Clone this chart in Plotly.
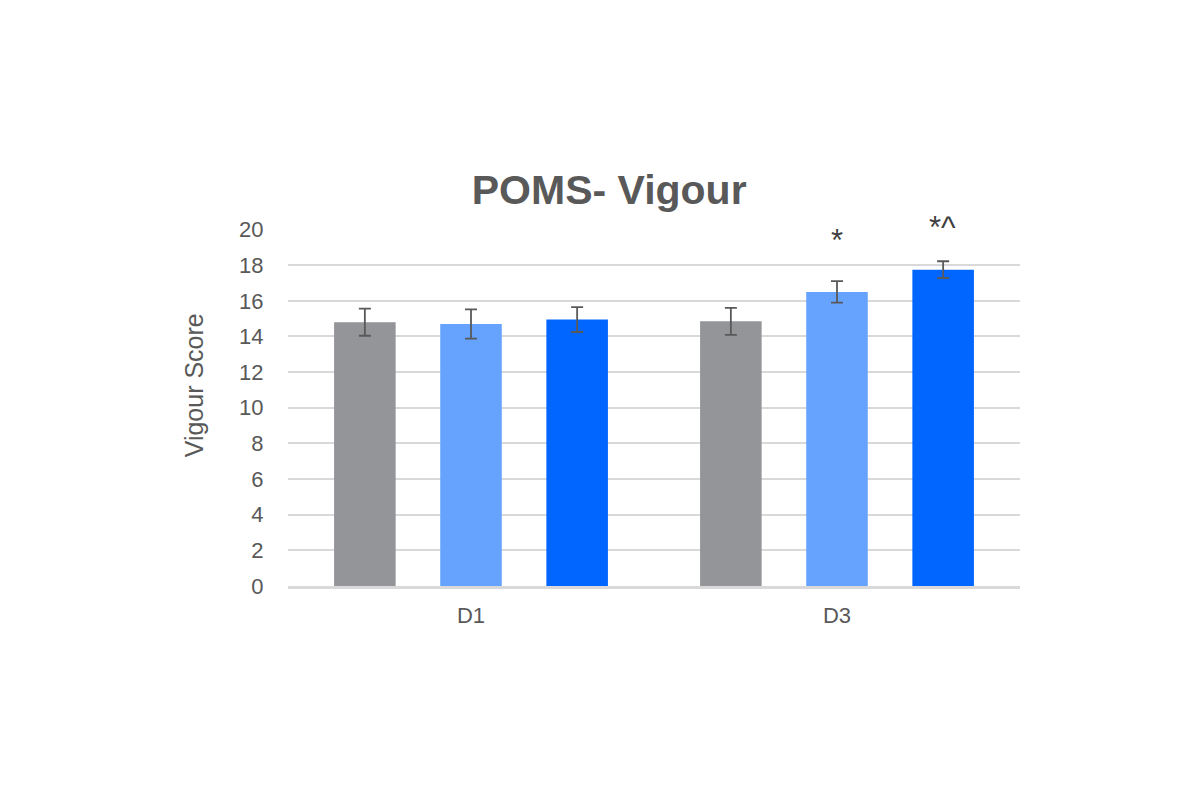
import plotly.graph_objects as go

# POMS vigour scores, three groups per day
days = ["D1", "D3"]
group_a = [14.8, 14.85]
group_b = [14.7, 16.5]
group_c = [14.95, 17.75]
err_a = [0.76, 0.76]
err_b = [0.82, 0.6]
err_c = [0.7, 0.47]
colors = ["#939598", "#66a3ff", "#0066ff"]

fig = go.Figure()
for vals, errs, col in zip([group_a, group_b, group_c], [err_a, err_b, err_c], colors):
    fig.add_trace(go.Bar(
        x=days, y=vals, marker_color=col, marker_line_width=0,
        error_y=dict(type="data", array=errs, color="#595959", thickness=1.8, width=6),
        showlegend=False,
    ))

# significance marks above D3 bars
fig.add_annotation(x="D3", y=19.4, text="*", showarrow=False, xshift=0,
                   font=dict(size=31, color="#404040", family="Liberation Sans"))
fig.add_annotation(x="D3", y=20, text="*^", showarrow=False, xshift=105, yshift=2,
                   font=dict(size=31, color="#404040", family="Liberation Sans"))

# y-axis title placed as annotation
fig.add_annotation(xref="paper", yref="paper", x=-0.128, y=0.563, text="Vigour Score",
                   xanchor="center", yanchor="middle",
                   textangle=-90, showarrow=False,
                   font=dict(size=25, color="#595959", family="Liberation Sans"))

fig.update_layout(
    width=1200, height=799,
    paper_bgcolor="white", plot_bgcolor="white",
    margin=dict(l=280, r=188, t=221, b=221),
    barmode="group", bargap=0.13, bargroupgap=0.42,
    font=dict(family="Liberation Sans", color="#595959"),
    title=dict(text="<b>POMS- Vigour</b>", x=0.501, xanchor="center",
               y=1 - 182 / 799, yanchor="middle",
               font=dict(size=41, color="#595959")),
)
fig.update_xaxes(showline=True, linecolor="#d9d9d9", linewidth=3,
                 ticks="outside", ticklen=8, tickcolor="rgba(0,0,0,0)",
                 tickfont=dict(size=22, color="#595959"))
fig.update_yaxes(range=[0, 20.03], tickvals=list(range(0, 21, 2)),
                 showgrid=True, gridcolor="#d9d9d9", gridwidth=1.5,
                 zeroline=False, ticks="outside", ticklen=19, tickcolor="rgba(0,0,0,0)",
                 tickfont=dict(size=22, color="#595959"))

fig.write_html("out.html")
